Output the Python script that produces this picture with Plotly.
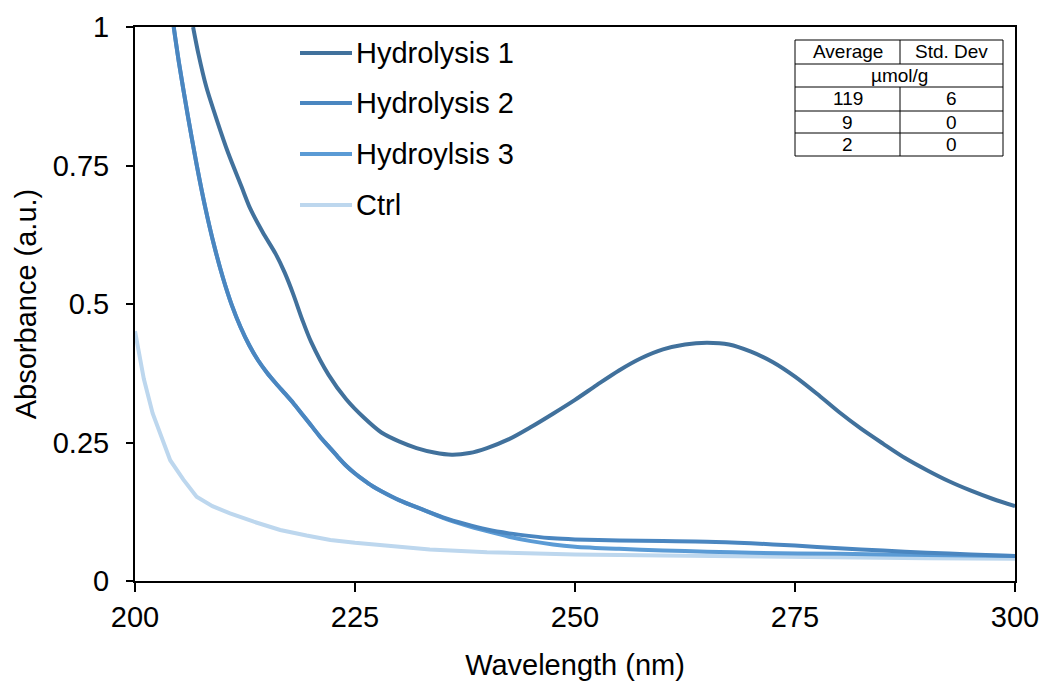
import plotly.graph_objects as go

# UV absorbance spectra (wavelength in nm, absorbance in a.u.)
wl_h1 = [206.6, 207.2, 208.1, 209.3, 210.6, 212.1, 213.1, 214.5, 216.0, 217.0, 218.0, 219.0,
         220.0, 222.0, 224.0, 226.0, 228.0, 230.0, 232.0, 234.0, 236.0, 238.0, 240.0, 242.5,
         245.0, 247.5, 250.0, 252.5, 255.0, 257.5, 260.0, 262.5, 265.0, 267.5, 270.0, 272.5,
         275.0, 277.5, 280.0, 282.5, 285.0, 287.5, 290.0, 292.5, 295.0, 297.5, 300.0]
abs_h1 = [1.000, 0.952, 0.892, 0.832, 0.772, 0.712, 0.672, 0.630, 0.590, 0.557, 0.517, 0.472,
          0.432, 0.372, 0.328, 0.295, 0.268, 0.252, 0.240, 0.232, 0.228, 0.231, 0.240, 0.256,
          0.278, 0.302, 0.327, 0.354, 0.380, 0.402, 0.418, 0.427, 0.430, 0.427, 0.414, 0.395,
          0.369, 0.338, 0.305, 0.275, 0.248, 0.222, 0.200, 0.180, 0.163, 0.148, 0.135]

wl_h2 = [204.4, 205.0, 206.0, 207.0, 208.0, 209.0, 210.0, 211.0, 212.0, 213.0, 214.0, 215.0,
         216.0, 217.0, 218.0, 219.0, 220.0, 221.0, 222.0, 223.0, 224.0, 225.0, 226.0, 227.0,
         228.0, 230.0, 232.5, 235.0, 237.5, 240.0, 242.5, 245.0, 247.5, 250.0, 255.0, 260.0,
         265.0, 270.0, 275.0, 280.0, 285.0, 290.0, 295.0, 300.0]
abs_h2 = [1.000, 0.935, 0.840, 0.752, 0.673, 0.605, 0.547, 0.498, 0.458, 0.425, 0.398, 0.376,
          0.357, 0.339, 0.321, 0.301, 0.281, 0.261, 0.243, 0.225, 0.208, 0.194, 0.182, 0.171,
          0.162, 0.146, 0.130, 0.115, 0.103, 0.093, 0.086, 0.081, 0.077, 0.075, 0.073, 0.072,
          0.071, 0.068, 0.064, 0.059, 0.055, 0.051, 0.048, 0.045]

wl_h3 = [204.4, 205.0, 206.0, 207.0, 208.0, 209.0, 210.0, 211.0, 212.0, 213.0, 214.0, 215.0,
         216.0, 217.0, 218.0, 219.0, 220.0, 221.0, 222.0, 223.0, 224.0, 225.0, 226.0, 227.0,
         228.0, 230.0, 232.5, 235.0, 237.5, 240.0, 242.5, 245.0, 247.5, 250.0, 255.0, 260.0,
         265.0, 270.0, 280.0, 290.0, 300.0]
abs_h3 = [1.000, 0.935, 0.840, 0.752, 0.673, 0.605, 0.547, 0.498, 0.458, 0.425, 0.398, 0.376,
          0.357, 0.339, 0.321, 0.301, 0.281, 0.261, 0.243, 0.225, 0.208, 0.194, 0.182, 0.171,
          0.162, 0.146, 0.130, 0.114, 0.101, 0.090, 0.080, 0.072, 0.066, 0.062, 0.058, 0.055,
          0.053, 0.051, 0.049, 0.047, 0.045]

wl_ctrl = [200.0, 201.0, 202.0, 203.0, 204.0, 205.5, 207.0, 208.8, 210.8, 213.5, 216.5, 219.5,
           222.2, 225.0, 227.8, 230.5, 233.5, 240.0, 250.0, 260.0, 270.0, 280.0, 290.0, 300.0]
abs_ctrl = [0.451, 0.365, 0.303, 0.258, 0.218, 0.183, 0.152, 0.135, 0.122, 0.107, 0.092, 0.082,
            0.074, 0.069, 0.065, 0.061, 0.057, 0.052, 0.048, 0.046, 0.044, 0.043, 0.041, 0.040]

series_names = ["Hydrolysis 1", "Hydrolysis 2", "Hydroylsis 3", "Ctrl"]
series_colors = ["#41719C", "#4A86C0", "#5B9BD5", "#BDD7EE"]
series_shapes = ["spline", "spline", "spline", "linear"]

x_ticks = [200, 225, 250, 275, 300]
y_ticks = [0, 0.25, 0.5, 0.75, 1]
y_tick_labels = ["0", "0.25", "0.5", "0.75", "1"]

# Summary table
table_header = ["Average", "Std. Dev"]
table_unit = "µmol/g"
table_avg = ["119", "9", "2"]
table_std = ["6", "0", "0"]

FONT = "Liberation Sans, Arial, sans-serif"
FS = 29

fig = go.Figure()
series = [(wl_h1, abs_h1), (wl_h2, abs_h2), (wl_h3, abs_h3), (wl_ctrl, abs_ctrl)]
# draw Ctrl first so the hydrolysis curves sit on top
for i in [3, 2, 1, 0]:
    xs, ys = series[i]
    fig.add_trace(go.Scatter(
        x=xs, y=ys, mode="lines", name=series_names[i],
        line=dict(color=series_colors[i], width=4, shape=series_shapes[i], smoothing=0.8),
        showlegend=False,
    ))

fig.update_xaxes(
    range=[200, 300], tickvals=x_ticks, ticks="outside", ticklen=9, tickwidth=1.5,
    tickcolor="black", showline=True, linecolor="black", linewidth=2, mirror=True,
    showgrid=False, zeroline=False, automargin=False, ticklabelstandoff=0,
    tickfont=dict(family=FONT, size=FS, color="black"),
    title=dict(text="Wavelength (nm)", font=dict(family=FONT, size=FS, color="black"), standoff=23),
)
fig.update_yaxes(
    range=[0, 1], tickvals=y_ticks, ticktext=y_tick_labels, ticks="outside", ticklen=7,
    tickwidth=1.5, tickcolor="black", showline=True, linecolor="black", linewidth=2,
    mirror=True, showgrid=False, zeroline=False, automargin=False, ticklabelstandoff=11,
    tickfont=dict(family=FONT, size=FS, color="black"),
    title=dict(text="Absorbance (a.u.)", font=dict(family=FONT, size=FS, color="black"), standoff=8),
)

# Legend drawn in paper coordinates
plot_l, plot_r, plot_t, plot_b = 135, 1015, 27, 581
W, H = 1044, 685
pw, ph = plot_r - plot_l, plot_b - plot_t

def px(xp):
    return (xp - plot_l) / pw

def py(yp):
    return (plot_b - yp) / ph

shapes = []
annotations = []
legend_y = [53, 103, 154, 205]
for i, yy in enumerate(legend_y):
    shapes.append(dict(type="line", xref="paper", yref="paper",
                       x0=px(300), x1=px(352), y0=py(yy), y1=py(yy),
                       line=dict(color=series_colors[i], width=4)))
    annotations.append(dict(xref="paper", yref="paper", x=px(354), y=py(yy),
                            text=series_names[i], showarrow=False, xanchor="left",
                            yanchor="middle", font=dict(family=FONT, size=FS, color="black")))

# Table grid
tx0, tx1, txm = 795, 1003, 900
row_edges = [40, 64, 87, 111, 133, 156]
line_style = dict(color="black", width=1)
shapes.append(dict(type="rect", xref="paper", yref="paper", x0=px(tx0), x1=px(tx1),
                   y0=py(row_edges[-1]), y1=py(row_edges[0]), line=line_style,
                   fillcolor="white", layer="above"))
for ye in row_edges[1:-1]:
    shapes.append(dict(type="line", xref="paper", yref="paper", x0=px(tx0), x1=px(tx1),
                       y0=py(ye), y1=py(ye), line=line_style))
# column divider (skips the merged unit row)
shapes.append(dict(type="line", xref="paper", yref="paper", x0=px(txm), x1=px(txm),
                   y0=py(row_edges[0]), y1=py(row_edges[1]), line=line_style))
shapes.append(dict(type="line", xref="paper", yref="paper", x0=px(txm), x1=px(txm),
                   y0=py(row_edges[2]), y1=py(row_edges[-1]), line=line_style))

def cell(text, xc, r):
    yc = (row_edges[r] + row_edges[r + 1]) / 2
    annotations.append(dict(xref="paper", yref="paper", x=px(xc), y=py(yc), text=text,
                            showarrow=False, xanchor="center", yanchor="middle",
                            font=dict(family=FONT, size=19, color="black")))

cx_l = (tx0 + txm) / 2
cx_r = (txm + tx1) / 2
cell(table_header[0], cx_l, 0)
cell(table_header[1], cx_r, 0)
cell(table_unit, (tx0 + tx1) / 2, 1)
for k in range(3):
    cell(table_avg[k], cx_l, k + 2)
    cell(table_std[k], cx_r, k + 2)

fig.update_layout(
    width=W, height=H,
    margin=dict(l=plot_l, r=W - plot_r, t=plot_t, b=H - plot_b, pad=0),
    paper_bgcolor="white", plot_bgcolor="white",
    shapes=shapes, annotations=annotations,
    font=dict(family=FONT, color="black"),
)

fig.write_html("out.html")
